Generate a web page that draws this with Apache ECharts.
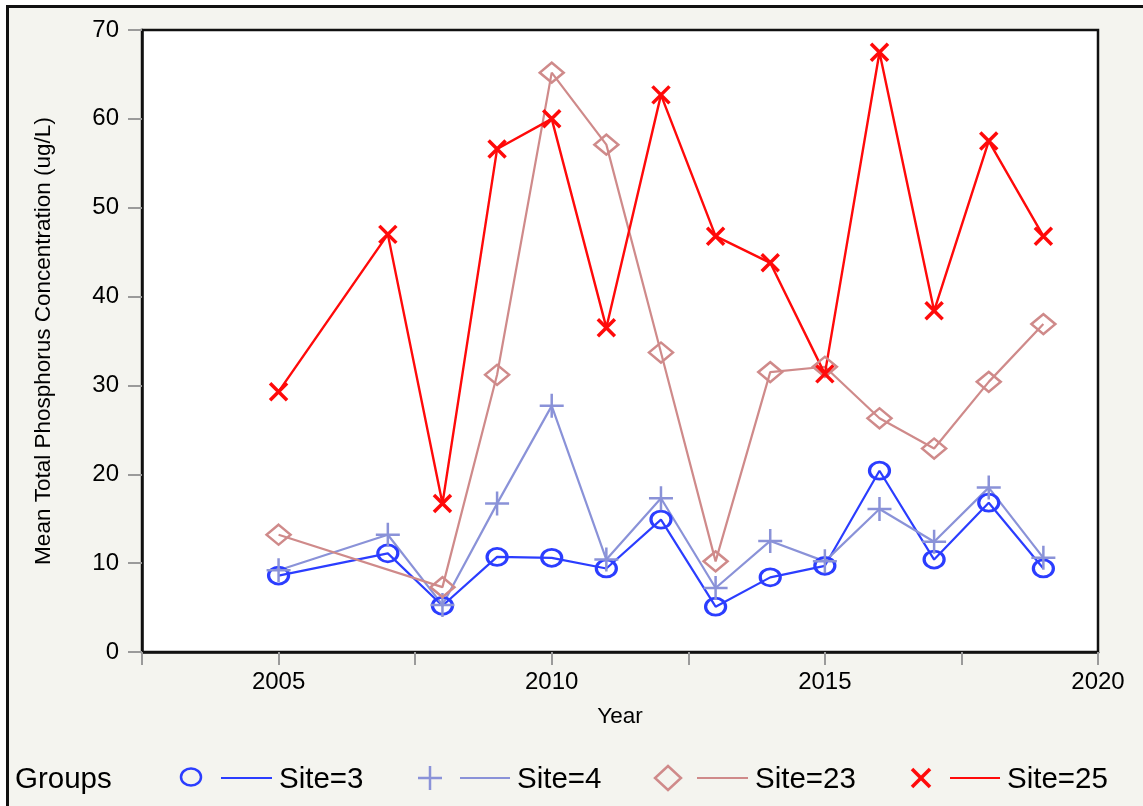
<!DOCTYPE html>
<html>
<head>
<meta charset="utf-8">
<script src="https://cdn.jsdelivr.net/npm/echarts@6/dist/echarts.min.js"></script>
<style>
  html, body { margin: 0; padding: 0; background: #fff; overflow: hidden; }
  #frame {
    position: absolute; left: 6px; top: 5px; width: 1200px; height: 900px;
    background: #f4f4ef; border-left: 3px solid #111; border-top: 3px solid #111;
  }
  #chart { position: absolute; left: 0; top: 0; width: 1143px; height: 806px; }
</style>
</head>
<body>
<div id="frame"></div>
<div id="chart"></div>
<script>
// Survey years (no sampling in 2006)
const years = [2005, 2007, 2008, 2009, 2010, 2011, 2012, 2013, 2014, 2015, 2016, 2017, 2018, 2019];

// Mean total phosphorus (ug/L) per site; null = no sample that year
const site3  = [8.6, 11.1, 5.2, 10.7, 10.6, 9.4, 14.9, 5.1, 8.4, 9.7, 20.4, 10.4, 16.8, 9.4];
const site4  = [9.2, 13.2, 5.3, 16.7, 27.7, 10.4, 17.3, 7.2, 12.5, 10.2, 16.1, 12.4, 18.5, 10.6];
const site23 = [13.2, null, 7.3, 31.2, 65.2, 57.1, 33.7, 10.2, 31.5, 32.1, 26.3, 22.9, 30.4, 36.9];
const site25 = [29.3, 47.0, 16.7, 56.6, 60.0, 36.5, 62.7, 46.8, 43.8, 31.3, 67.5, 38.4, 57.5, 46.8];

const groupNames = ['Site=3', 'Site=4', 'Site=23', 'Site=25'];
const colors = ['#2b3dff', '#8a92d8', '#cf8a8a', '#ff0a0a'];

const FONT = "'Liberation Sans', Arial, Helvetica, sans-serif";

const SYM_CIRCLE = 'path://M0,5 A5,5 0 1,1 10,5 A5,5 0 1,1 0,5 Z';
const SYM_PLUS = 'path://M0,5 L10,5 M5,0 L5,10';
const SYM_DIAMOND = 'path://M5,0 L10,5 L5,10 L0,5 Z';
const SYM_X = 'path://M0,0 L10,10 M10,0 L0,10';

function pairs(vals) {
  return years.map((y, i) => [y, vals[i]]);
}

function makeSeries(name, vals, color, symbol, size, bw, lw) {
  return {
    name: name,
    type: 'line',
    data: pairs(vals),
    connectNulls: true,
    symbol: symbol,
    symbolSize: size,
    showAllSymbol: true,
    lineStyle: { color: color, width: lw },
    itemStyle: { color: 'rgba(0,0,0,0)', borderColor: color, borderWidth: bw },
    emphasis: { disabled: true },
    animation: false
  };
}

const chart = echarts.init(document.getElementById('chart'), null, { renderer: 'canvas' });

// Legend row drawn beneath the plot
const legendY = 778;
const LEG_FONT = '29.5px ' + FONT;
const textTop = legendY - 13;
const legendGraphics = [
  { type: 'text', left: 15, top: textTop,
    style: { text: 'Groups', font: LEG_FONT, fill: '#000' } },
  // Site=3
  { type: 'ellipse', shape: { cx: 191, cy: legendY - 1, rx: 10, ry: 8.5 },
    style: { fill: 'none', stroke: colors[0], lineWidth: 2.5 } },
  { type: 'line', shape: { x1: 221, y1: legendY, x2: 272, y2: legendY },
    style: { stroke: colors[0], lineWidth: 2 } },
  { type: 'text', left: 279, top: textTop,
    style: { text: groupNames[0], font: LEG_FONT, fill: '#000' } },
  // Site=4
  { type: 'polyline', shape: { points: [[418, legendY], [442, legendY]] },
    style: { stroke: colors[1], lineWidth: 2.5, fill: 'none' } },
  { type: 'polyline', shape: { points: [[430, legendY - 12], [430, legendY + 12]] },
    style: { stroke: colors[1], lineWidth: 2.5, fill: 'none' } },
  { type: 'line', shape: { x1: 460, y1: legendY, x2: 510, y2: legendY },
    style: { stroke: colors[1], lineWidth: 2 } },
  { type: 'text', left: 517, top: textTop,
    style: { text: groupNames[1], font: LEG_FONT, fill: '#000' } },
  // Site=23
  { type: 'polygon', shape: { points: [[668, legendY - 12], [681, legendY], [668, legendY + 12], [655, legendY]] },
    style: { fill: 'none', stroke: colors[2], lineWidth: 2.5 } },
  { type: 'line', shape: { x1: 697, y1: legendY, x2: 748, y2: legendY },
    style: { stroke: colors[2], lineWidth: 2 } },
  { type: 'text', left: 755, top: textTop,
    style: { text: groupNames[2], font: LEG_FONT, fill: '#000' } },
  // Site=25
  { type: 'polyline', shape: { points: [[912, legendY - 9], [930, legendY + 9]] },
    style: { stroke: colors[3], lineWidth: 3.5, fill: 'none' } },
  { type: 'polyline', shape: { points: [[930, legendY - 9], [912, legendY + 9]] },
    style: { stroke: colors[3], lineWidth: 3.5, fill: 'none' } },
  { type: 'line', shape: { x1: 950, y1: legendY, x2: 1000, y2: legendY },
    style: { stroke: colors[3], lineWidth: 2 } },
  { type: 'text', left: 1007, top: textTop,
    style: { text: groupNames[3], font: LEG_FONT, fill: '#000' } }
];

chart.setOption({
  backgroundColor: 'transparent',
  animation: false,
  textStyle: { fontFamily: FONT },
  grid: {
    left: 142, right: 45, top: 30, bottom: 154,
    show: true, backgroundColor: '#fff', borderColor: '#111', borderWidth: 2.5
  },
  xAxis: {
    type: 'value',
    min: 2002.5, max: 2020, interval: 2.5,
    name: 'Year', nameLocation: 'middle', nameGap: 53,
    nameTextStyle: { fontSize: 22.5, color: '#000', fontFamily: FONT },
    axisLine: { show: true, lineStyle: { color: '#111', width: 2.5 } },
    axisTick: { show: true, length: 13, lineStyle: { color: '#9a9a9a', width: 2 } },
    axisLabel: {
      fontSize: 24, color: '#000', margin: 18, fontFamily: FONT,
      showMinLabel: true, showMaxLabel: true,
      formatter: v => (v % 5 === 0 ? String(v) : '')
    },
    splitLine: { show: false }
  },
  yAxis: {
    type: 'value',
    min: 0, max: 70, interval: 10,
    name: 'Mean Total Phosphorus Concentration (ug/L)',
    nameLocation: 'middle', nameGap: 87,
    nameTextStyle: { fontSize: 22.5, color: '#000', fontFamily: FONT },
    axisLine: { show: true, lineStyle: { color: '#111', width: 2.5 } },
    axisTick: { show: true, length: 14, lineStyle: { color: '#9a9a9a', width: 2 } },
    axisLabel: { fontSize: 24, color: '#000', margin: 23, fontFamily: FONT },
    splitLine: { show: false }
  },
  graphic: legendGraphics,
  series: [
    makeSeries(groupNames[0], site3, colors[0], SYM_CIRCLE, [20, 17], 3, 2.2),
    makeSeries(groupNames[1], site4, colors[1], SYM_PLUS, [24, 24], 2.5, 2.2),
    makeSeries(groupNames[2], site23, colors[2], SYM_DIAMOND, [24, 20], 2.5, 2.2),
    makeSeries(groupNames[3], site25, colors[3], SYM_X, [17, 17], 3.5, 2.4)
  ]
});
</script>
</body>
</html>
